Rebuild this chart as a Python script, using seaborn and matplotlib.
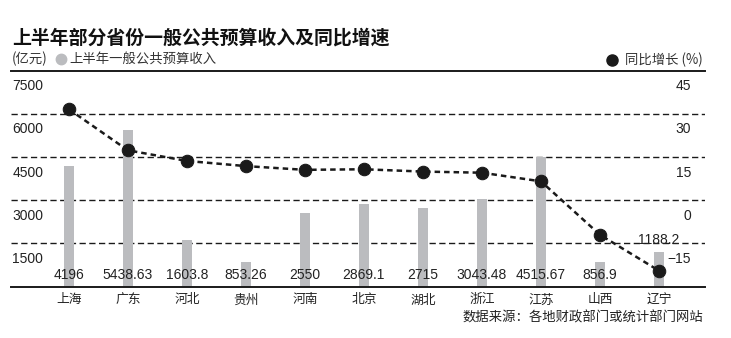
import numpy as np
import pandas as pd
import matplotlib
matplotlib.use("Agg")
import matplotlib.pyplot as plt
from matplotlib.lines import Line2D
from matplotlib.transforms import blended_transform_factory
import seaborn as sns

# Data
provinces = ["上海", "广东", "河北", "贵州", "河南", "北京", "湖北", "浙江", "江苏", "山西", "辽宁"]
revenue = [4196, 5438.63, 1603.8, 853.26, 2550, 2869.1, 2715, 3043.48, 4515.67, 856.9, 1188.2]
revenue_labels = ["4196", "5438.63", "1603.8", "853.26", "2550", "2869.1", "2715",
                  "3043.48", "4515.67", "856.9", "1188.2"]
growth = [31.7, 17.4, 13.7, 11.9, 10.6, 10.8, 10.0, 9.6, 6.6, -12.0, -24.5]
left_ticks = [1500, 3000, 4500, 6000, 7500]
right_ticks = [-15, 0, 15, 30, 45]
right_tick_labels = ["\u221215", "0", "15", "30", "45"]

sns.set_theme(style="white")
plt.rcParams["font.family"] = ["Liberation Sans", "Noto Sans CJK SC", "DejaVu Sans"]
plt.rcParams["axes.unicode_minus"] = True

BAR = "#bbbcbf"
INK = "#1a1a1a"

fig = plt.figure(figsize=(7.31, 3.38), dpi=100)
ax = fig.add_axes([11 / 731, 51.5 / 338, 694 / 731, 215.5 / 338])

df = pd.DataFrame({"province": provinces, "revenue": revenue})
sns.barplot(data=df, x="province", y="revenue", color=BAR, width=0.18,
            saturation=1, linewidth=0, edgecolor=BAR, ax=ax, zorder=2)

ax.set_xlim(-0.98, 10.78)
ax.set_ylim(0, 7500)
ax.set_xlabel("")
ax.set_ylabel("")
ax.set_yticks([])
ax.tick_params(axis="x", length=0, pad=5, labelsize=9.2, colors="#222222")
for lab in ax.get_xticklabels():
    lab.set_family(["Noto Sans CJK SC"])

for s in ["left", "right"]:
    ax.spines[s].set_visible(False)
for s in ["top", "bottom"]:
    ax.spines[s].set_visible(True)
    ax.spines[s].set_color(INK)
    ax.spines[s].set_linewidth(1.4)

# dashed gridlines
for t in left_ticks[:-1]:
    ax.axhline(t, color=INK, lw=1.0, ls=(0, (4.5, 2.5)), zorder=1)

# left tick labels sit just under each line
ytrans = blended_transform_factory(ax.transAxes, ax.transData)
for t in left_ticks:
    ax.annotate(f"{t}", xy=(0.002, t), xycoords=ytrans, xytext=(0, -6),
                textcoords="offset points", ha="left", va="top",
                fontsize=10, color="#222222")

# value labels
for i, (v, lab) in enumerate(zip(revenue, revenue_labels)):
    if i == len(revenue) - 1:
        ax.annotate(lab, xy=(i, v), xytext=(0, 9), textcoords="offset points",
                    ha="center", va="center", fontsize=10, color="#222222", zorder=5)
    else:
        ax.annotate(lab, xy=(i, 0), xytext=(0, 8.5), textcoords="offset points",
                    ha="center", va="center", fontsize=10, color="#222222", zorder=5)

# growth line on right scale
ax2 = ax.twinx()
ax2.set_ylim(-30, 45)
ax2.set_yticks([])
for s in ax2.spines.values():
    s.set_visible(False)
sns.lineplot(x=np.arange(len(growth)), y=growth, ax=ax2, color=INK, lw=1.8,
             linestyle=(0, (2.2, 1.6)), marker="o", markersize=9,
             markeredgecolor=INK, markerfacecolor=INK, zorder=4)
ax2.set_xlim(-0.98, 10.78)

ytrans2 = blended_transform_factory(ax2.transAxes, ax2.transData)
for t, lab in zip(right_ticks, right_tick_labels):
    ax2.annotate(lab, xy=(0.98, t), xycoords=ytrans2, xytext=(0, -6),
                 textcoords="offset points", ha="right", va="top",
                 fontsize=10, color="#222222")

# title and legend row
fig.text(12 / 731, 1 - 38 / 338, "上半年部分省份一般公共预算收入及同比增速",
         fontsize=13.6, fontweight="black", color="#111111", va="center", ha="left",
         family=["Noto Sans CJK SC"])
fig.text(12 / 731, 1 - 59 / 338, "(亿元)", fontsize=9.6, color="#333333",
         va="center", ha="left", family=["Noto Sans CJK SC"])
fig.add_artist(Line2D([61 / 731], [1 - 59 / 338], marker="o", markersize=7.5,
                      color=BAR, transform=fig.transFigure))
fig.text(69 / 731, 1 - 59 / 338, "上半年一般公共预算收入", fontsize=9.6, color="#333333",
         va="center", ha="left", family=["Noto Sans CJK SC"])
fig.add_artist(Line2D([612 / 731], [1 - 60 / 338], marker="o", markersize=8,
                      color=INK, transform=fig.transFigure))
fig.text(703 / 731, 1 - 60 / 338, "同比增长 (%)", fontsize=9.6, color="#333333",
         va="center", ha="right", family=["Noto Sans CJK SC"])

fig.text(703 / 731, 1 - 318 / 338, "数据来源：各地财政部门或统计部门网站", fontsize=9.6,
         color="#222222", va="center", ha="right", family=["Noto Sans CJK SC"])

fig.savefig("out.png", dpi=100)
